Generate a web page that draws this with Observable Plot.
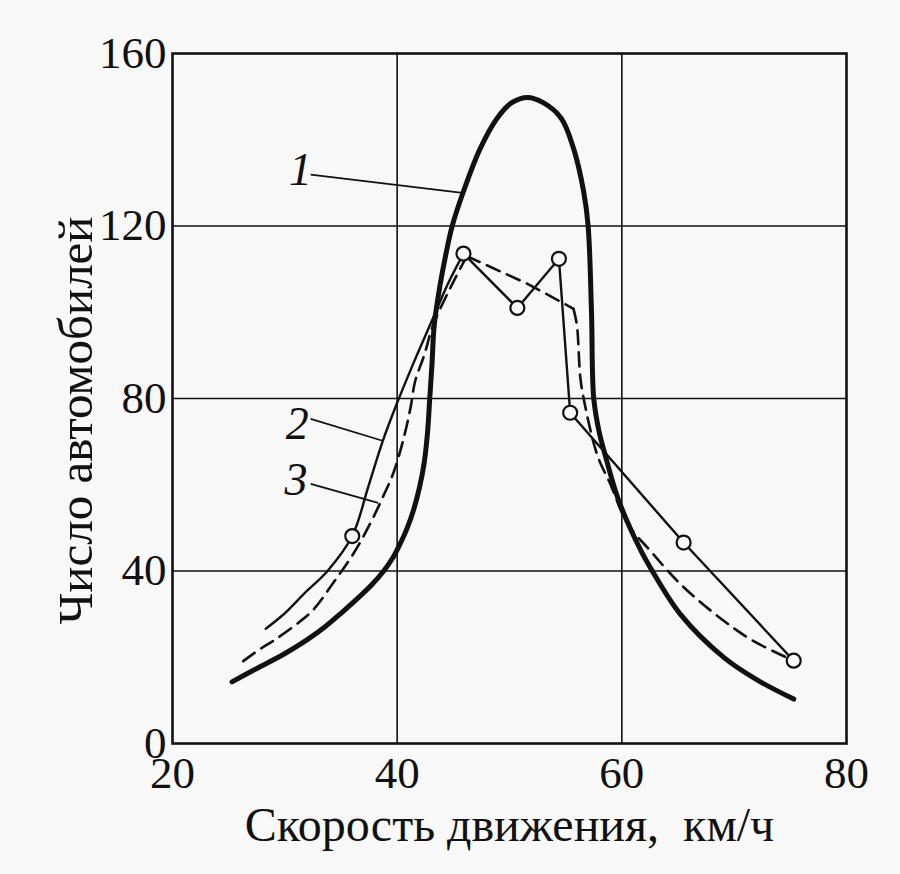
<!DOCTYPE html>
<html>
<head>
<meta charset="utf-8">
<script src="https://cdn.jsdelivr.net/npm/d3@7"></script>
<script src="https://cdn.jsdelivr.net/npm/@observablehq/plot@0.6"></script>
<style>
  html, body { margin: 0; padding: 0; background: #f8f8f8; }
  #chart svg { display: block; }
</style>
</head>
<body>
<div id="chart"></div>
<script>
// Axis ticks
const xTicks = [20, 40, 60, 80];
const yTicks = [0, 40, 80, 120, 160];
const xTitle = "Скорость движения,\u00a0\u00a0км/ч";
const yTitle = "Число автомобилей";

// Curve 1 (thick solid)
const curve1X = [25.3, 27.5, 29.9, 32, 33.5, 35, 36.5, 37.8, 38.8, 39.6, 40.3, 40.9, 41.5, 42, 42.4, 42.7, 42.9, 43.1, 43.3, 43.8, 44.3, 44.9, 45.9, 47.4, 48.9, 50.2, 51.6, 53, 54.6, 55.7, 56.6, 57, 57.3, 57.5, 58, 58.4, 59.7, 61.7, 62.6, 65.2, 69.1, 72, 75.3];
const curve1Y = [14.3, 17.4, 20.7, 24.1, 26.9, 30.2, 33.7, 37, 40, 43, 46.5, 50, 54.5, 59.5, 65, 72, 80, 88, 97, 106, 113, 120, 128, 138, 145, 148.6, 149.8, 148.6, 145, 138, 128, 120, 100, 80, 72, 68, 56.5, 44.7, 40.5, 30, 19.9, 14.8, 10.3];

// Curve 2 (thin solid with observation circles)
const curve2X = [28.3, 30, 31.7, 33.8, 36, 37.4, 38.7, 40, 41.5, 43, 44.5, 45.9, 50.7, 54.4, 55.4, 65.5, 75.3];
const curve2Y = [26.6, 30.2, 34.7, 40, 48.1, 59.3, 70, 79, 88.5, 97.5, 106.5, 113.6, 101, 112.4, 76.7, 46.6, 19.2];
const circlesX = [36, 45.9, 50.7, 54.4, 55.4, 65.5, 75.3];
const circlesY = [48.1, 113.6, 101, 112.4, 76.7, 46.6, 19.2];

// Curve 3 (dashed)
const curve3X = [26.3, 27.8, 29.2, 31.4, 32.6, 34.3, 36.1, 37.6, 38.7, 39.7, 40.6, 41.2, 41.6, 42.4, 43.2, 44.8, 46.2, 51.6, 55.7, 56, 56.3, 56.6, 57.8, 59, 60.5, 62.6, 65.2, 68.8, 71.7, 75.3];
const curve3Y = [19.1, 21.9, 24.2, 28.4, 31.2, 37.2, 44, 51, 57, 63, 71, 78, 84, 90, 97, 106, 113, 106.6, 100.8, 97, 85, 80, 67, 60, 51, 44.5, 37, 29, 23.8, 19.2];

// Curve labels and their leader lines
const labelText = ["1", "2", "3"];
const labelX = [31.4, 31.1, 31.0];
const labelY = [132.9, 74.1, 61.1];
const leaderX1 = [32.3, 32.3, 32.3];
const leaderY1 = [131.9, 75.3, 60.2];
const leaderX2 = [45.8, 38.7, 38.3];
const leaderY2 = [127.7, 70.2, 55.8];

const zip = (xs, ys) => xs.map((x, i) => ({x, y: ys[i]}));
const c1 = zip(curve1X, curve1Y);
const c2 = zip(curve2X, curve2Y);
const c3 = zip(curve3X, curve3Y);
const circ = zip(circlesX, circlesY);
const labels = labelText.map((t, i) => ({t, x: labelX[i], y: labelY[i]}));
const leaders = labelText.map((t, i) => ({x1: leaderX1[i], y1: leaderY1[i], x2: leaderX2[i], y2: leaderY2[i]}));

// smooth tails vs straight segments between observation points
const c2Left = c2.slice(0, 12), c2Right = c2.slice(11);
const iPeak3 = curve3X.indexOf(46.2), iKnee3 = curve3X.indexOf(55.7);
const c3Left = c3.slice(0, iPeak3 + 1), c3Mid = c3.slice(iPeak3, iKnee3 + 1), c3Right = c3.slice(iKnee3);

const serif = "Liberation Serif, Times New Roman, serif";
const ink = "#111";
const dashed = {x: "x", y: "y", stroke: ink, strokeWidth: 2.6, strokeDasharray: "14,8"};
const thin = {x: "x", y: "y", stroke: ink, strokeWidth: 2.4};

const chart = Plot.plot({
  width: 900,
  height: 874,
  marginLeft: 172,
  marginRight: 54,
  marginTop: 53,
  marginBottom: 131,
  style: {background: "#f8f8f8", fontFamily: serif, color: ink},
  x: {domain: [20, 80]},
  y: {domain: [0, 160]},
  marks: [
    Plot.ruleX(xTicks.slice(1, -1), {stroke: ink, strokeWidth: 1.6}),
    Plot.ruleY(yTicks.slice(1, -1), {stroke: ink, strokeWidth: 1.6}),
    Plot.frame({stroke: ink, strokeWidth: 2.6}),
    Plot.axisX(xTicks, {tickSize: 0, tickPadding: 13, fontSize: 45, fontFamily: serif, label: null}),
    Plot.axisY(yTicks, {tickSize: 0, tickPadding: 6, fontSize: 45, fontFamily: serif, label: null}),
    Plot.text([xTitle], {frameAnchor: "bottom", textAnchor: "middle", lineAnchor: "middle", dy: 82, fontSize: 48, fontFamily: serif, fill: ink}),
    Plot.text([yTitle], {frameAnchor: "left", textAnchor: "middle", lineAnchor: "middle", dx: -96, dy: 22, rotate: -90, fontSize: 49, fontFamily: serif, fill: ink}),
    Plot.link(leaders, {x1: "x1", y1: "y1", x2: "x2", y2: "y2", stroke: ink, strokeWidth: 1.8}),
    Plot.text(labels, {x: "x", y: "y", text: "t", fontSize: 46, fontStyle: "italic", fontFamily: serif, fill: ink}),
    Plot.line(c3Left, {...dashed, curve: "catmull-rom"}),
    Plot.line(c3Mid, dashed),
    Plot.line(c3Right, {...dashed, curve: "catmull-rom"}),
    Plot.line(c2Left, {...thin, curve: "catmull-rom"}),
    Plot.line(c2Right, thin),
    Plot.line(c1, {x: "x", y: "y", stroke: ink, strokeWidth: 5, curve: "catmull-rom", strokeLinecap: "round"}),
    Plot.dot(circ, {x: "x", y: "y", r: 7, fill: "#f8f8f8", stroke: ink, strokeWidth: 2.2})
  ]
});
document.getElementById("chart").appendChild(chart);
</script>
</body>
</html>
